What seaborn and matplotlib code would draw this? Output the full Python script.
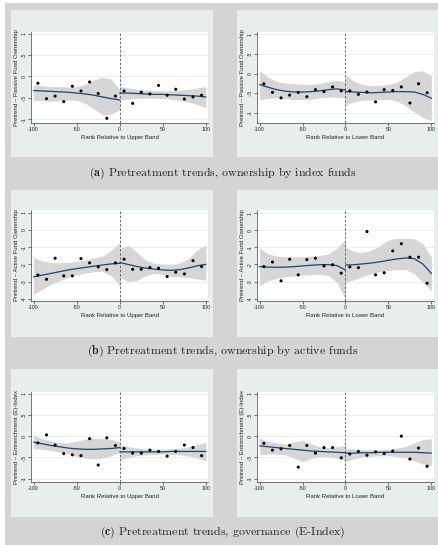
import numpy as np
import pandas as pd
import matplotlib
matplotlib.use("Agg")
import matplotlib.pyplot as plt
from matplotlib.patches import Rectangle
import seaborn as sns

# ---------------- data ----------------
bins = [-95, -85, -75, -65, -55, -45, -35, -25, -15, -5,
        5, 15, 25, 35, 45, 55, 65, 75, 85, 95]
grid_left = [-100, -90, -80, -70, -60, -50, -40, -30, -20, -10, 0]
grid_right = [0, 10, 20, 30, 40, 50, 60, 70, 80, 90, 100]

# Passive ownership, upper band
pas_up_pts = [-0.16, -0.52, -0.46, -0.59, -0.23, -0.34, -0.13, -0.40, -0.98, -0.46,
              -0.34, -0.63, -0.37, -0.41, -0.21, -0.44, -0.30, -0.53, -0.48, -0.44]
pas_up_fit_l = [-0.33, -0.34, -0.35, -0.36, -0.37, -0.39, -0.41, -0.44, -0.48, -0.52, -0.55]
pas_up_lo_l = [-0.56, -0.57, -0.58, -0.57, -0.55, -0.56, -0.63, -0.76, -0.90, -0.88, -0.78]
pas_up_hi_l = [-0.20, -0.22, -0.24, -0.24, -0.25, -0.24, -0.18, -0.08, -0.02, -0.06, -0.31]
pas_up_fit_r = [-0.39, -0.39, -0.40, -0.41, -0.42, -0.42, -0.43, -0.44, -0.45, -0.46, -0.48]
pas_up_lo_r = [-0.55, -0.53, -0.51, -0.50, -0.50, -0.51, -0.53, -0.56, -0.60, -0.66, -0.73]
pas_up_hi_r = [-0.24, -0.27, -0.30, -0.32, -0.33, -0.34, -0.33, -0.32, -0.30, -0.27, -0.24]

# Passive ownership, lower band
pas_lo_pts = [-0.26, -0.48, -0.62, -0.55, -0.48, -0.59, -0.41, -0.46, -0.34, -0.44,
              -0.44, -0.53, -0.47, -0.72, -0.41, -0.43, -0.34, -0.75, -0.26, -0.49]
pas_lo_fit_l = [-0.28, -0.35, -0.41, -0.45, -0.47, -0.47, -0.46, -0.44, -0.41, -0.39, -0.42]
pas_lo_lo_l = [-0.67, -0.63, -0.62, -0.64, -0.66, -0.66, -0.65, -0.62, -0.60, -0.60, -0.63]
pas_lo_hi_l = [0.08, -0.10, -0.20, -0.24, -0.26, -0.27, -0.28, -0.25, -0.21, -0.17, -0.22]
pas_lo_fit_r = [-0.46, -0.47, -0.48, -0.49, -0.48, -0.47, -0.46, -0.46, -0.47, -0.53, -0.63]
pas_lo_lo_r = [-0.80, -0.72, -0.68, -0.67, -0.66, -0.66, -0.70, -0.82, -0.98, -1.12, -1.20]
pas_lo_hi_r = [-0.04, -0.20, -0.28, -0.31, -0.30, -0.28, -0.22, -0.08, 0.05, 0.07, -0.05]

# Active ownership, upper band
act_up_pts = [-2.61, -2.86, -1.64, -2.66, -2.66, -1.66, -1.91, -2.14, -2.30, -1.91,
              -1.70, -2.28, -2.28, -2.18, -2.22, -2.70, -2.45, -2.55, -1.78, -2.12]
act_up_fit_l = [-2.72, -2.62, -2.52, -2.42, -2.32, -2.24, -2.17, -2.10, -2.03, -1.97, -1.93]
act_up_lo_l = [-3.71, -3.45, -3.15, -2.95, -2.75, -2.60, -2.50, -2.42, -2.40, -2.65, -3.24]
act_up_hi_l = [-1.60, -1.80, -1.88, -1.90, -1.88, -1.82, -1.74, -1.62, -1.52, -1.18, -0.73]
act_up_fit_r = [-1.89, -2.00, -2.12, -2.21, -2.27, -2.32, -2.34, -2.30, -2.20, -2.08, -1.99]
act_up_lo_r = [-2.72, -3.00, -2.92, -2.65, -2.52, -2.58, -2.68, -2.72, -2.76, -2.84, -2.92]
act_up_hi_r = [-1.08, -0.88, -1.30, -1.75, -1.93, -2.00, -2.02, -1.90, -1.65, -1.15, -0.87]

# Active ownership, lower band
act_lo_pts = [-2.13, -1.86, -2.96, -1.70, -2.61, -1.72, -1.64, -2.09, -2.02, -2.51,
              -2.15, -2.19, -0.08, -2.61, -2.49, -1.21, -0.79, -1.58, -1.58, -3.10]
act_lo_fit_l = [-2.13, -2.16, -2.17, -2.16, -2.13, -2.09, -2.05, -2.02, -2.01, -2.07, -2.33]
act_lo_lo_l = [-3.25, -2.95, -2.80, -2.72, -2.68, -2.63, -2.60, -2.58, -2.65, -3.05, -4.05]
act_lo_hi_l = [-1.05, -1.40, -1.50, -1.55, -1.55, -1.55, -1.52, -1.48, -1.40, -1.05, -0.55]
act_lo_fit_r = [-2.04, -2.02, -1.97, -1.92, -1.85, -1.76, -1.68, -1.62, -1.66, -1.98, -2.53]
act_lo_lo_r = [-3.05, -2.90, -2.70, -2.55, -2.42, -2.35, -2.30, -2.30, -2.55, -3.05, -3.56]
act_lo_hi_r = [-0.99, -1.25, -1.30, -1.18, -0.90, -0.58, -0.47, -0.47, -0.50, -0.78, -1.58]

# E-Index, upper band
ent_up_pts = [-0.16, 0.03, -0.21, -0.41, -0.44, -0.46, -0.06, -0.68, -0.04, -0.22,
              -0.29, -0.40, -0.40, -0.33, -0.36, -0.47, -0.36, -0.21, -0.27, -0.46]
ent_up_fit_l = [-0.14, -0.18, -0.22, -0.25, -0.28, -0.30, -0.31, -0.31, -0.30, -0.29, -0.27]
ent_up_lo_l = [-0.29, -0.31, -0.34, -0.37, -0.41, -0.47, -0.52, -0.53, -0.52, -0.46, -0.38]
ent_up_hi_l = [0.02, -0.06, -0.11, -0.15, -0.16, -0.12, -0.07, -0.05, -0.05, -0.08, -0.13]
ent_up_fit_r = [-0.37, -0.37, -0.37, -0.37, -0.37, -0.37, -0.36, -0.36, -0.36, -0.36, -0.36]
ent_up_lo_r = [-0.56, -0.50, -0.46, -0.44, -0.43, -0.42, -0.43, -0.44, -0.47, -0.52, -0.58]
ent_up_hi_r = [-0.20, -0.25, -0.28, -0.30, -0.31, -0.31, -0.30, -0.28, -0.25, -0.20, -0.14]

# E-Index, lower band
ent_lo_pts = [-0.17, -0.33, -0.30, -0.22, -0.73, -0.22, -0.40, -0.27, -0.27, -0.51,
              -0.42, -0.36, -0.45, -0.37, -0.41, -0.35, 0.00, -0.54, -0.28, -0.71]
ent_lo_fit_l = [-0.23, -0.25, -0.27, -0.29, -0.31, -0.33, -0.35, -0.36, -0.37, -0.38, -0.39]
ent_lo_lo_l = [-0.44, -0.42, -0.42, -0.44, -0.52, -0.60, -0.53, -0.48, -0.48, -0.52, -0.57]
ent_lo_hi_l = [-0.05, -0.12, -0.16, -0.19, -0.14, -0.09, -0.18, -0.25, -0.27, -0.25, -0.21]
ent_lo_fit_r = [-0.40, -0.40, -0.39, -0.39, -0.38, -0.38, -0.38, -0.38, -0.38, -0.39, -0.40]
ent_lo_lo_r = [-0.60, -0.53, -0.49, -0.47, -0.46, -0.46, -0.48, -0.51, -0.58, -0.66, -0.70]
ent_lo_hi_r = [-0.28, -0.30, -0.32, -0.32, -0.32, -0.31, -0.28, -0.24, -0.16, -0.08, -0.06]

half_ticks = [-1, -0.5, 0, 0.5, 1]
half_labels = ["-1", "-.5", "0", ".5", "1"]
unit_ticks = [-4, -3, -2, -1, 0, 1]
unit_labels = ["-4", "-3", "-2", "-1", "0", "1"]
x_ticks = [-100, -50, 0, 50, 100]
x_labels = ["-100", "-50", "0", "50", "100"]

captions = [("(a)", "Pretreatment trends, ownership by index funds"),
            ("(b)", "Pretreatment trends, ownership by active funds"),
            ("(c)", "Pretreatment trends, governance (E-Index)")]

# ---------------- style ----------------
sns.set_style("white")
plt.rcParams["font.family"] = ["Liberation Sans", "DejaVu Sans"]

W, H = 439, 545
fig = plt.figure(figsize=(W / 100, H / 100), dpi=100)
fig.patch.set_facecolor("white")

OUTER = "#d4d4d4"
PANEL = "#e8eeee"
NAVY = "#1a476f"
BAND = "#d6d6d6"
GRIDC = "#e6eef0"


def px_rect(x0, y0, x1, y1, color, z=0):
    fig.patches.append(Rectangle((x0 / W, 1 - y1 / H), (x1 - x0) / W, (y1 - y0) / H,
                                 transform=fig.transFigure, facecolor=color,
                                 edgecolor="none", zorder=z))


def px_axes(x0, y0, x1, y1):
    return fig.add_axes([x0 / W, 1 - y1 / H, (x1 - x0) / W, (y1 - y0) / H])


px_rect(5, 3, W, H, OUTER, z=0)

rows = [(10, 157), (190, 337), (369, 517)]
for (t, b) in rows:
    px_rect(11, t, 213, b, PANEL, z=1)
    px_rect(237, t, W, b, PANEL, z=1)

panels = [
    (0, 0, pas_up_pts, pas_up_fit_l, pas_up_lo_l, pas_up_hi_l, pas_up_fit_r, pas_up_lo_r, pas_up_hi_r,
     "Pretrend – Passive Fund Ownership", "Rank Relative to Upper Band", (-1.09, 1.04), half_ticks, half_labels),
    (0, 1, pas_lo_pts, pas_lo_fit_l, pas_lo_lo_l, pas_lo_hi_l, pas_lo_fit_r, pas_lo_lo_r, pas_lo_hi_r,
     "Pretrend – Passive Fund Ownership", "Rank Relative to Lower Band", (-1.26, 1.06), half_ticks, half_labels),
    (1, 0, act_up_pts, act_up_fit_l, act_up_lo_l, act_up_hi_l, act_up_fit_r, act_up_lo_r, act_up_hi_r,
     "Pretrend – Active Fund Ownership", "Rank Relative to Upper Band", (-4.12, 1.16), unit_ticks, unit_labels),
    (1, 1, act_lo_pts, act_lo_fit_l, act_lo_lo_l, act_lo_hi_l, act_lo_fit_r, act_lo_lo_r, act_lo_hi_r,
     "Pretrend – Active Fund Ownership", "Rank Relative to Lower Band", (-4.14, 1.18), unit_ticks, unit_labels),
    (2, 0, ent_up_pts, ent_up_fit_l, ent_up_lo_l, ent_up_hi_l, ent_up_fit_r, ent_up_lo_r, ent_up_hi_r,
     "Pretrend – Entrenchment (E)-Index", "Rank Relative to Upper Band", (-1.08, 1.04), half_ticks, half_labels),
    (2, 1, ent_lo_pts, ent_lo_fit_l, ent_lo_lo_l, ent_lo_hi_l, ent_lo_fit_r, ent_lo_lo_r, ent_lo_hi_r,
     "Pretrend – Entrenchment (E)-Index", "Rank Relative to Lower Band", (-1.08, 1.04), half_ticks, half_labels),
]

ax_tops = [32, 210, 392]
ax_bots = [123, 301, 482]
ax_lefts = [31, 257]
ax_rights = [208.5, 434]

for (r, c, pts, fl, ll, hl, fr, lr, hr, ylab, xlab, ylim, yt, ytl) in panels:
    ax = px_axes(ax_lefts[c], ax_tops[r], ax_rights[c], ax_bots[r])
    ax.set_zorder(3)
    ax.set_facecolor("white")

    # confidence bands
    ax.fill_between(grid_left, ll, hl, color=BAND, lw=0, zorder=1)
    ax.fill_between(grid_right, lr, hr, color=BAND, lw=0, zorder=1)

    # local fits
    sns.lineplot(x=grid_left, y=fl, ax=ax, color=NAVY, lw=0.9, zorder=3)
    sns.lineplot(x=grid_right, y=fr, ax=ax, color=NAVY, lw=0.9, zorder=3)

    # binned means
    sns.scatterplot(x=bins, y=pts, ax=ax, color="black", s=5, marker="o",
                    edgecolor="none", zorder=4)

    ax.axvline(0, color="#555555", lw=0.6, ls=(0, (3, 2)), zorder=2)

    ax.set_xlim(-103, 103)
    ax.set_ylim(*ylim)
    ax.set_yticks(yt)
    ax.set_yticklabels(ytl, rotation=90, va="center")
    ax.set_xticks(x_ticks)
    ax.set_xticklabels(x_labels)
    ax.yaxis.grid(True, color=GRIDC, lw=0.6, zorder=0)
    ax.xaxis.grid(False)
    ax.set_axisbelow(True)

    for s in ["top", "right"]:
        ax.spines[s].set_visible(False)
    for s in ["left", "bottom"]:
        ax.spines[s].set_color("#444444")
        ax.spines[s].set_linewidth(0.5)
    ax.tick_params(axis="both", which="major", direction="out", length=2, width=0.5,
                   color="#444444", labelsize=3.8, pad=1.2, labelcolor="#222222",
                   left=True, bottom=True)
    ax.set_ylabel(ylab, fontsize=4.3, labelpad=2, color="#222222")
    ax.set_xlabel(xlab, fontsize=4.3, labelpad=1.5, color="#222222")

# captions in serif
cap_y = [173, 351, 532]
for (tag, text), y in zip(captions, cap_y):
    fig.text(223 / W, 1 - y / H, r"$\mathbf{" + tag + r"}$ " + text,
             ha="center", va="center", fontsize=8.6, family="cmr10",
             math_fontfamily="cm", color="#222222", zorder=5)

fig.savefig("out.png", dpi=100, facecolor=fig.get_facecolor())
